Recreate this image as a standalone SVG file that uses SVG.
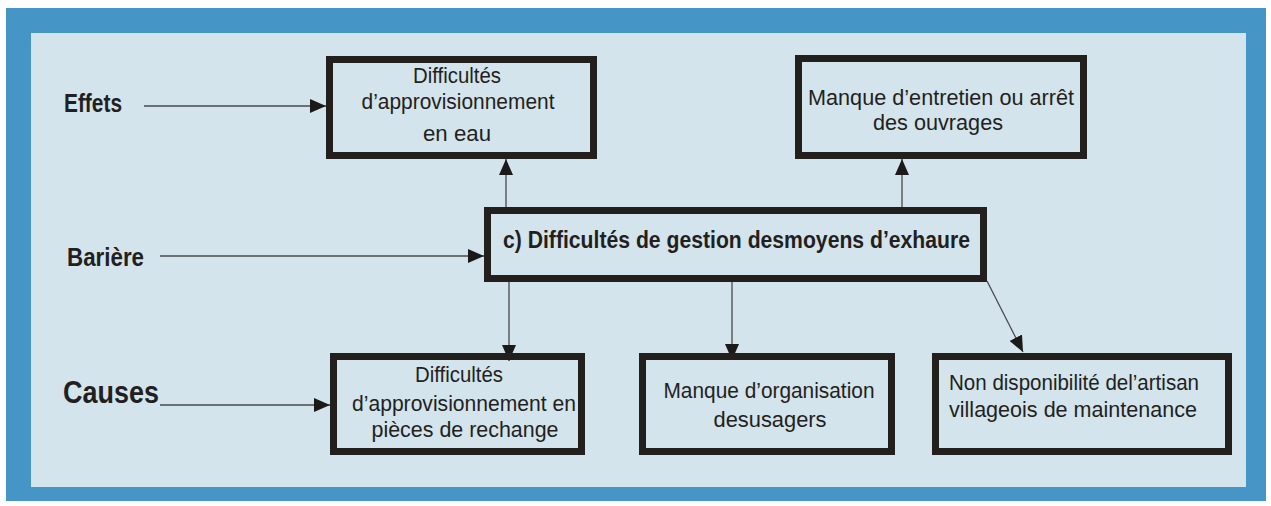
<svg xmlns="http://www.w3.org/2000/svg" width="1271" height="506" viewBox="0 0 1271 506">
<style>
.box{fill:none;stroke:#231f1c;stroke-width:7}
.t{font-family:"Liberation Sans",Arial,sans-serif;font-size:22.5px;fill:#231f20}
.c{text-anchor:middle}
.b{font-weight:bold}
.lb{font-size:25px}
.ln{stroke:#4a4a4a;stroke-width:1.3;fill:none;marker-end:url(#ah)}
</style>
<defs>
<marker id="ah" markerUnits="userSpaceOnUse" markerWidth="16" markerHeight="14" refX="16" refY="7" orient="auto">
<path d="M0,0 L16,7 L0,14 z" fill="#1c1a18"/>
</marker>
</defs>
<rect x="0" y="0" width="1271" height="506" fill="#ffffff"/>
<rect x="6" y="8" width="1260" height="493" fill="#4595c6"/>
<rect x="31" y="33" width="1215" height="454" fill="#d3e4ec"/>

<g id="labels">
<text class="t b lb" x="64" y="112" textLength="58" lengthAdjust="spacingAndGlyphs">Effets</text>
<text class="t b lb" x="67" y="266" textLength="77" lengthAdjust="spacingAndGlyphs">Barière</text>
<text class="t b" x="63" y="403" style="font-size:32px" textLength="96" lengthAdjust="spacingAndGlyphs">Causes</text>
</g>

<g id="connectors">
<line class="ln" x1="144" y1="106" x2="326" y2="106"/>
<line class="ln" x1="160" y1="256" x2="484" y2="256"/>
<line class="ln" x1="160" y1="405" x2="330" y2="405"/>
<line class="ln" x1="506" y1="207" x2="506" y2="159"/>
<line class="ln" x1="902" y1="207" x2="902" y2="159"/>
<line class="ln" x1="509" y1="282" x2="509" y2="361"/>
<line class="ln" x1="732" y1="282" x2="732" y2="360"/>
<line class="ln" x1="987" y1="281" x2="1023" y2="352"/>
</g>

<g id="effet1">
<rect class="box" x="329.5" y="59.5" width="264" height="96"/>
<text class="t c" x="457" y="83" textLength="88" lengthAdjust="spacingAndGlyphs">Difficultés</text>
<text class="t c" x="458" y="109" textLength="193" lengthAdjust="spacingAndGlyphs">d’approvisionnement</text>
<text class="t c" x="457" y="141" textLength="68" lengthAdjust="spacingAndGlyphs">en eau</text>
</g>

<g id="effet2">
<rect class="box" x="798.5" y="58.5" width="285" height="97"/>
<text class="t c" x="941" y="105" textLength="266" lengthAdjust="spacingAndGlyphs">Manque d’entretien ou arrêt</text>
<text class="t c" x="938" y="130" textLength="130" lengthAdjust="spacingAndGlyphs">des ouvrages</text>
</g>

<g id="bariere">
<rect class="box" x="487.5" y="210.5" width="496" height="68"/>
<text class="t b" x="503" y="248" style="font-size:23.5px" textLength="467" lengthAdjust="spacingAndGlyphs">c) Difficultés de gestion desmoyens d’exhaure</text>
</g>

<g id="cause1">
<rect class="box" x="333.5" y="356.5" width="248" height="95"/>
<text class="t c" x="459" y="382" textLength="88" lengthAdjust="spacingAndGlyphs">Difficultés</text>
<text class="t c" x="464" y="411" textLength="224" lengthAdjust="spacingAndGlyphs">d’approvisionnement en</text>
<text class="t c" x="465" y="437" textLength="187" lengthAdjust="spacingAndGlyphs">pièces de rechange</text>
</g>

<g id="cause2">
<rect class="box" x="642.5" y="356.5" width="249" height="95"/>
<text class="t c" x="769" y="398" textLength="211" lengthAdjust="spacingAndGlyphs">Manque d’organisation</text>
<text class="t c" x="770" y="427" textLength="113" lengthAdjust="spacingAndGlyphs">desusagers</text>
</g>

<g id="cause3">
<rect class="box" x="935.5" y="356.5" width="293" height="95"/>
<text class="t" x="949" y="390" textLength="250" lengthAdjust="spacingAndGlyphs">Non disponibilité del’artisan</text>
<text class="t" x="949" y="417" textLength="248" lengthAdjust="spacingAndGlyphs">villageois de maintenance</text>
</g>
</svg>
